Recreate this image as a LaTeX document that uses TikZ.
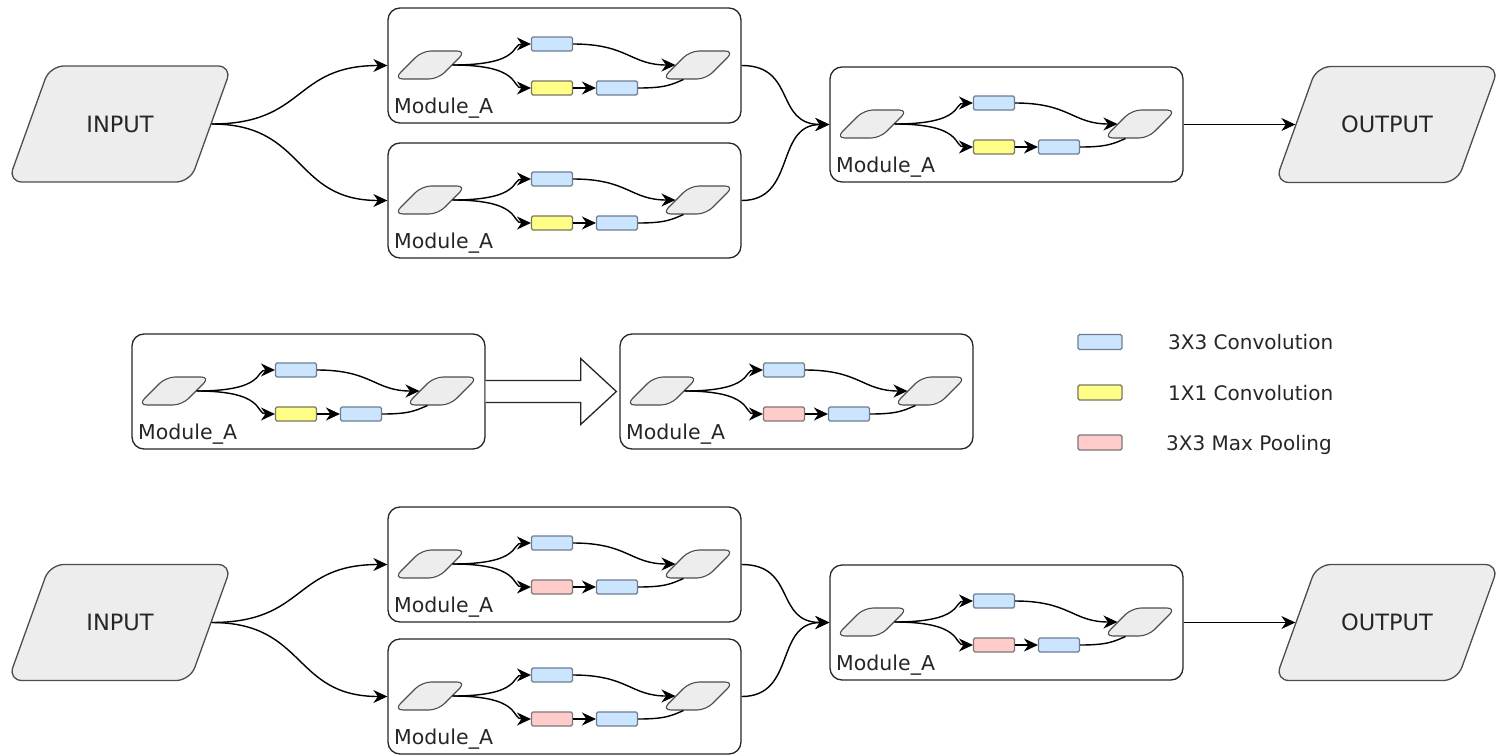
\documentclass[tikz,border=0pt]{standalone}
\usepackage{fontspec}
\setmainfont{DejaVu Sans}
\usetikzlibrary{arrows.meta,calc}
\definecolor{pfill}{HTML}{EDEDED}
\definecolor{pstroke}{HTML}{4D4D4D}
\definecolor{blfill}{HTML}{CCE5FF}
\definecolor{blstroke}{HTML}{6C7D92}
\definecolor{ylfill}{HTML}{FFFF88}
\definecolor{ylstroke}{HTML}{77775E}
\definecolor{rdfill}{HTML}{FFCCCC}
\definecolor{rdstroke}{HTML}{807575}
\tikzset{
  arr/.style={line width=1.4pt, -{Stealth[length=14pt,width=13pt,inset=4.5pt]}},
  ln/.style={line width=1.4pt},
  para/.style={rectangle, xslant=1, transform shape, minimum width=44pt, minimum height=28pt,
    inner sep=0pt, rounded corners=9pt, draw=pstroke, fill=pfill, line width=1.1pt},
  io/.style={rectangle, xslant=0.36, transform shape, minimum width=182pt, minimum height=116pt,
    inner sep=0pt, rounded corners=14pt, draw=pstroke, fill=pfill, line width=1.3pt},
  iotext/.style={inner sep=0pt, font=\fontsize{22.5}{26}\selectfont, text=black!85},
  modbox/.style={draw=black!85, line width=1.3pt, rounded corners=12pt,
    minimum width=353pt, minimum height=115pt, inner sep=0pt},
  opbox/.style={line width=1.1pt, minimum width=41pt, minimum height=14pt,
    inner sep=0pt, rounded corners=1.5pt},
  blbox/.style={opbox, fill=blfill, draw=blstroke},
  ylbox/.style={opbox, fill=ylfill, draw=ylstroke},
  rdbox/.style={opbox, fill=rdfill, draw=rdstroke},
  modlabel/.style={inner sep=0pt, anchor=base west, font=\fontsize{20.5}{24}\selectfont, text=black!85},
  legtext/.style={inner sep=0pt, anchor=base west, font=\fontsize{20}{24}\selectfont, text=black!85},
  bigarrow/.style={draw=black!85, line width=1.3pt, fill=white},
  pics/module/.style={code={
    \node[modbox] (-box) at (176.5,57.5) {};
    \node[para] (-in) at (42,57) {};
    \node[blbox] (-a) at (164,36) {};
    \node[#1] (-b) at (164,80) {};
    \node[blbox] (-c) at (229,80) {};
    \node[para] (-out) at (310,57) {};
    \node[modlabel] (-lab) at (6,105) {Module\_A};
    \draw[arr] (-in.east) .. controls +(70,0) and +(-20,0) .. (-a.west);
    \draw[arr] (-in.east) .. controls +(70,0) and +(-20,0) .. (-b.west);
    \draw[arr] (-b.east) -- (-c.west);
    \draw[arr] (-a.east) .. controls +(55,0) and +(-45,0) .. (-out.west);
    \draw[ln] (-c.east) .. controls +(28,0) and +(-12,5) .. (-out.south);
  }}
}
\begin{document}
\begin{tikzpicture}[x=1pt,y=-1pt]
\useasboundingbox (0,0) rectangle (1507,755);
% ---------- top row ----------
\node[io] (in1) at (120,124) {};
\node[iotext] (in1t) at (in1.center) {INPUT};
\pic (t1) at (388,8) {module=ylbox};
\pic (t2) at (388,143) {module=ylbox};
\pic (tr) at (830,67) {module=ylbox};
\node[io] (out1) at (1387,124.5) {};
\node[iotext] (out1t) at (out1.center) {OUTPUT};
\draw[arr] (in1.east) .. controls +(95,0) and +(-95,0) .. (t1-box.west);
\draw[arr] (in1.east) .. controls +(95,0) and +(-95,0) .. (t2-box.west);
\draw[arr] (t1-box.east) .. controls +(55,0) and +(-55,0) .. (tr-box.west);
\draw[arr] (t2-box.east) .. controls +(55,0) and +(-55,0) .. (tr-box.west);
\draw[arr] (tr-box.east) -- (out1.west);
% ---------- middle row ----------
\pic (ml) at (132,334) {module=ylbox};
\pic (mr) at (620,334) {module=rdbox};
\draw[bigarrow] ($(ml-box.east)+(0,-11)$) -- ++(95,0) -- ++(0,-22)
  -- ($(mr-box.west)+(-3,0)$) -- ($(ml-box.east)+(95,33)$) -- ++(0,-22)
  -- ($(ml-box.east)+(0,11)$);
\node[blbox, minimum width=44pt, minimum height=15pt] (lg1) at (1100,342) {};
\node[ylbox, minimum width=44pt, minimum height=15pt] (lg2) at (1100,392.5) {};
\node[rdbox, minimum width=44pt, minimum height=15pt] (lg3) at (1100,442.5) {};
\node[legtext] (lt1) at (1168,349.5) {3X3 Convolution};
\node[legtext] (lt2) at (1168,400) {1X1 Convolution};
\node[legtext] (lt3) at (1166,450) {3X3 Max Pooling};
% ---------- bottom row ----------
\node[io] (in2) at (120,622.5) {};
\node[iotext] (in2t) at (in2.center) {INPUT};
\pic (b1) at (388,507) {module=rdbox};
\pic (b2) at (388,639) {module=rdbox};
\pic (br) at (830,565) {module=rdbox};
\node[io] (out2) at (1387,622.5) {};
\node[iotext] (out2t) at (out2.center) {OUTPUT};
\draw[arr] (in2.east) .. controls +(95,0) and +(-95,0) .. (b1-box.west);
\draw[arr] (in2.east) .. controls +(95,0) and +(-95,0) .. (b2-box.west);
\draw[arr] (b1-box.east) .. controls +(55,0) and +(-55,0) .. (br-box.west);
\draw[arr] (b2-box.east) .. controls +(55,0) and +(-55,0) .. (br-box.west);
\draw[arr] (br-box.east) -- (out2.west);
\end{tikzpicture}
\end{document}
